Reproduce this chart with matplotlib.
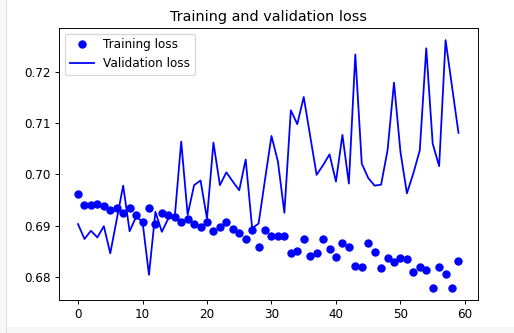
import matplotlib
matplotlib.use('Agg')
import matplotlib.pyplot as plt
from matplotlib.patches import Rectangle

epochs = list(range(60))

train_loss = [0.6962, 0.6940, 0.6940, 0.6943, 0.6938, 0.6930, 0.6934, 0.6925, 0.6935, 0.6920,
              0.6908, 0.6934, 0.6904, 0.6924, 0.6921, 0.6917, 0.6908, 0.6913, 0.6903, 0.6897,
              0.6908, 0.6890, 0.6897, 0.6907, 0.6894, 0.6886, 0.6874, 0.6891, 0.6859, 0.6891,
              0.6880, 0.6880, 0.6880, 0.6847, 0.6850, 0.6874, 0.6841, 0.6847, 0.6874, 0.6854,
              0.6839, 0.6867, 0.6859, 0.6822, 0.6820, 0.6867, 0.6849, 0.6818, 0.6836, 0.6830,
              0.6837, 0.6835, 0.6810, 0.6819, 0.6813, 0.6779, 0.6820, 0.6805, 0.6779, 0.6831]

val_loss = [0.6903, 0.6874, 0.6890, 0.6877, 0.6899, 0.6846, 0.6912, 0.6978, 0.6889, 0.6917,
            0.6908, 0.6804, 0.6927, 0.6888, 0.6914, 0.6917, 0.7064, 0.6921, 0.6979, 0.6988,
            0.6914, 0.7062, 0.6979, 0.7004, 0.6986, 0.6969, 0.7029, 0.6895, 0.6904, 0.6990,
            0.7075, 0.7025, 0.6925, 0.7125, 0.7098, 0.7151, 0.7075, 0.6999, 0.7018, 0.7039,
            0.6986, 0.7077, 0.6982, 0.7234, 0.7021, 0.6993, 0.6978, 0.6980, 0.7047, 0.7179,
            0.7044, 0.6963, 0.7002, 0.7047, 0.7246, 0.7060, 0.7016, 0.7262, 0.7171, 0.7081]

dpi = 86
fig = plt.figure(figsize=(514 / dpi, 333 / dpi), dpi=dpi)

# notebook frame around the output cell
fig.add_artist(Rectangle((0, 0), 6 / 514, 1, transform=fig.transFigure,
                         facecolor='#f7f7f7', edgecolor='none'))
fig.add_artist(Rectangle((0, 0), 1, 6 / 333, transform=fig.transFigure,
                         facecolor='#f7f7f7', edgecolor='none'))
fig.add_artist(Rectangle((6 / 514, 0), 1 / 514, 1, transform=fig.transFigure,
                         facecolor='#dddddd', edgecolor='none'))

ax = fig.add_axes([0.1148, 0.099, 0.8142, 0.8178])

ax.plot(epochs, train_loss, 'bo', label='Training loss')
ax.plot(epochs, val_loss, 'b', label='Validation loss')
ax.set_title('Training and validation loss')
ax.set_yticks([0.68, 0.69, 0.70, 0.71, 0.72])
ax.legend(loc='upper left')

fig.savefig('out.png', dpi=dpi)
